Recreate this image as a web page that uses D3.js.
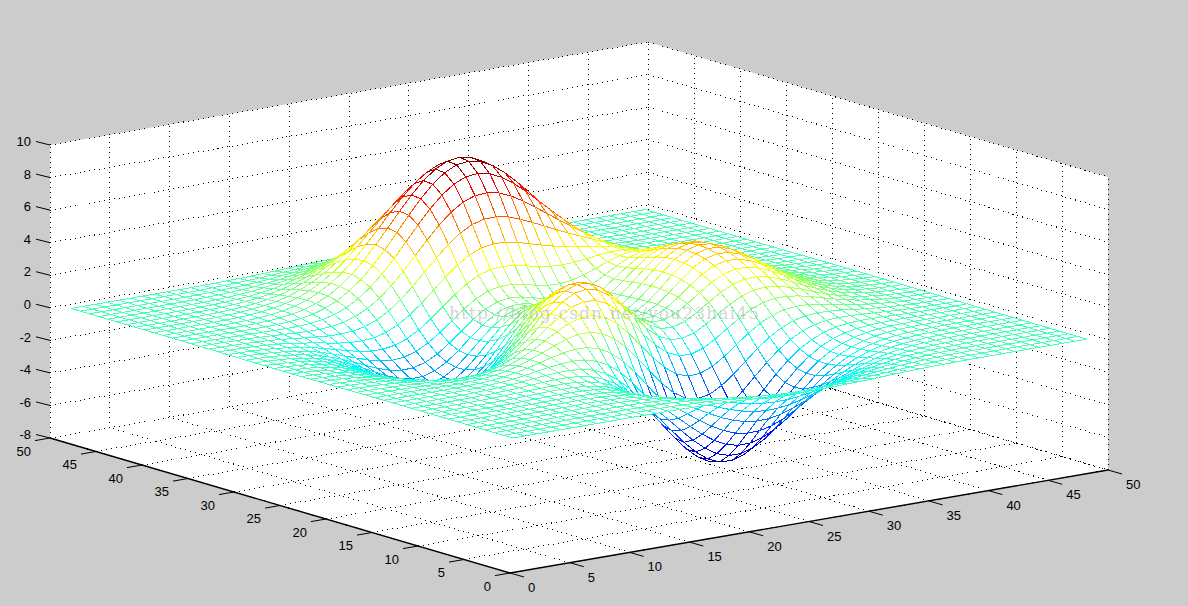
<!DOCTYPE html>
<html><head><meta charset="utf-8">
<script src="https://cdn.jsdelivr.net/npm/d3@7/dist/d3.min.js"></script>
<style>html,body{margin:0;padding:0;background:#ccc;overflow:hidden}svg{display:block}text{font-family:"Liberation Sans",Arial,sans-serif;font-size:13px;fill:#000}</style>
</head><body><svg id="c" width="1188" height="606"></svg>
<script>
const xTicks=[0,5,10,15,20,25,30,35,40,45,50];
const yTicks=[0,5,10,15,20,25,30,35,40,45,50];
const zTicks=[-8,-6,-4,-2,0,2,4,6,8,10];
const watermark="http://blog.csdn.net/you23hai45";
// surface heights in hundredths; row = y index 1..49, column = x index 1..49
const zGrid=[
[0,0,0,0,0,0,0,0,0,0,1,1,0,0,-1,-2,-3,-5,-8,-11,-14,-17,-20,-23,-25,-25,-25,-24,-22,-20,-17,-14,-11,-8,-6,-4,-3,-2,-1,-1,0,0,0,0,0,0,0,0,0],
[0,0,0,0,0,0,0,0,1,1,1,1,0,0,-1,-3,-6,-9,-13,-18,-24,-29,-34,-39,-42,-43,-43,-41,-38,-33,-28,-23,-19,-14,-10,-7,-5,-3,-2,-1,-1,0,0,0,0,0,0,0,0],
[0,0,0,0,0,0,0,1,1,1,1,1,0,-1,-2,-5,-10,-15,-22,-30,-39,-48,-56,-63,-68,-70,-69,-66,-61,-54,-46,-38,-30,-23,-17,-12,-8,-5,-3,-2,-1,-1,0,0,0,0,0,0,0],
[0,0,0,0,0,0,1,1,1,1,1,1,0,-1,-4,-9,-16,-24,-35,-48,-62,-75,-88,-98,-106,-109,-108,-103,-95,-84,-71,-59,-46,-35,-26,-18,-13,-8,-5,-3,-2,-1,-1,0,0,0,0,0,0],
[0,0,0,0,0,1,1,1,1,2,2,2,0,-2,-7,-14,-23,-36,-53,-71,-91,-112,-131,-146,-157,-162,-160,-153,-141,-124,-106,-87,-69,-52,-38,-27,-18,-12,-8,-5,-3,-1,-1,0,0,0,0,0,0],
[0,0,0,0,0,1,1,2,2,2,3,2,0,-3,-10,-20,-33,-52,-75,-101,-130,-159,-186,-208,-224,-231,-229,-218,-201,-177,-151,-124,-98,-74,-55,-38,-26,-17,-11,-6,-4,-2,-1,-1,0,0,0,0,0],
[0,0,0,0,1,1,1,2,3,3,4,3,1,-4,-12,-25,-44,-69,-99,-135,-174,-214,-251,-281,-302,-312,-310,-296,-272,-241,-205,-168,-132,-101,-73,-52,-35,-22,-14,-8,-5,-2,-1,-1,0,0,0,0,0],
[0,0,0,0,1,1,2,3,4,5,5,4,2,-4,-14,-30,-53,-85,-125,-171,-221,-273,-321,-361,-390,-403,-401,-383,-353,-312,-265,-217,-171,-130,-94,-66,-44,-28,-17,-10,-6,-3,-1,-1,0,0,0,0,0],
[0,0,0,1,1,1,2,3,5,6,7,7,5,-1,-13,-32,-59,-97,-145,-201,-264,-328,-388,-439,-476,-494,-493,-472,-435,-385,-327,-268,-210,-159,-115,-80,-53,-34,-20,-12,-6,-3,-1,-1,0,0,0,0,0],
[0,0,0,1,1,2,3,4,6,8,10,10,9,4,-8,-27,-58,-100,-154,-220,-293,-369,-441,-503,-549,-573,-574,-551,-508,-450,-382,-312,-244,-183,-132,-90,-59,-37,-22,-12,-6,-3,-1,0,0,0,0,0,0],
[0,0,0,1,1,2,3,5,7,10,13,15,15,12,2,-16,-46,-90,-148,-219,-301,-387,-470,-543,-598,-629,-633,-610,-564,-500,-424,-345,-269,-200,-142,-96,-61,-37,-20,-10,-4,-1,0,1,1,1,0,0,0],
[0,0,0,0,1,2,3,5,8,12,16,20,24,24,18,4,-22,-62,-119,-192,-277,-369,-460,-542,-606,-645,-654,-635,-588,-522,-442,-358,-276,-203,-141,-93,-57,-32,-16,-6,-1,1,2,2,1,1,1,0,0],
[0,0,0,0,1,1,3,5,8,13,19,26,33,38,39,33,15,-18,-68,-136,-219,-312,-408,-496,-568,-615,-633,-619,-576,-511,-432,-346,-264,-189,-127,-79,-44,-21,-7,1,4,5,5,4,3,2,1,1,0],
[0,0,0,0,0,0,1,3,7,12,19,29,41,53,62,67,61,41,4,-53,-128,-217,-313,-405,-483,-539,-565,-560,-525,-466,-390,-309,-229,-157,-98,-54,-22,-3,8,12,12,11,8,6,4,3,2,1,1],
[0,-1,-1,-1,-1,-2,-1,0,3,8,17,29,45,64,84,101,111,108,88,48,-14,-94,-185,-277,-360,-424,-460,-465,-440,-390,-322,-247,-174,-108,-56,-17,8,22,27,26,23,18,13,9,6,4,2,1,1],
[-1,-1,-2,-2,-3,-4,-5,-5,-3,1,9,23,42,68,97,128,155,173,173,153,109,43,-40,-130,-216,-287,-333,-348,-334,-294,-236,-170,-104,-47,-2,29,46,52,50,44,35,27,19,13,9,5,3,2,1],
[-1,-2,-2,-4,-6,-8,-10,-12,-13,-11,-4,9,30,60,98,142,186,223,245,247,223,172,100,14,-72,-148,-202,-227,-222,-192,-143,-85,-27,22,58,80,88,86,77,64,50,37,26,18,11,7,4,2,1],
[-1,-2,-4,-6,-9,-13,-17,-22,-26,-28,-25,-14,7,39,83,136,195,250,293,315,311,277,216,137,51,-27,-86,-118,-121,-97,-54,-2,49,91,120,134,133,123,106,86,66,48,34,23,14,9,5,3,2],
[-2,-3,-5,-8,-12,-18,-25,-34,-42,-49,-51,-45,-28,3,49,110,178,248,309,350,363,344,294,222,140,61,-1,-36,-41,-20,20,70,118,156,179,186,178,159,135,108,82,59,42,28,18,11,6,4,2],
[-2,-4,-6,-10,-16,-24,-35,-47,-61,-73,-82,-83,-72,-45,0,63,138,218,292,348,376,370,331,266,188,111,51,16,11,34,76,127,175,211,231,233,219,194,163,129,98,71,49,33,21,13,8,4,2],
[-3,-5,-8,-13,-20,-30,-44,-61,-80,-99,-116,-125,-121,-101,-60,2,80,166,249,316,355,360,330,273,200,127,70,39,39,67,114,169,220,257,276,275,256,225,188,148,112,81,56,37,24,15,9,5,3],
[-3,-5,-9,-15,-24,-36,-53,-74,-98,-124,-149,-166,-171,-158,-123,-66,12,101,189,263,311,325,303,253,186,119,67,42,48,83,137,198,253,293,311,308,286,251,209,165,125,90,62,41,26,16,10,5,3],
[-3,-6,-10,-17,-27,-41,-60,-85,-114,-146,-178,-203,-216,-212,-184,-131,-56,32,123,202,256,277,263,219,158,98,53,34,48,89,150,216,276,318,337,333,309,270,225,177,134,96,67,44,28,17,10,6,3],
[-4,-6,-11,-18,-29,-45,-66,-93,-126,-163,-200,-232,-253,-255,-234,-188,-117,-31,60,141,200,226,218,181,127,74,35,23,43,90,156,227,289,333,353,348,323,282,235,185,140,100,70,46,29,18,11,6,3],
[-4,-7,-11,-19,-30,-47,-69,-98,-133,-173,-214,-251,-277,-286,-271,-230,-165,-82,6,88,148,178,175,145,98,51,19,13,38,89,157,230,294,338,358,353,327,286,237,187,141,102,70,47,30,18,11,6,3],
[-4,-7,-11,-19,-30,-47,-70,-99,-135,-176,-220,-259,-289,-302,-293,-257,-198,-121,-36,43,104,136,137,113,73,32,6,5,32,85,154,226,289,333,352,347,321,281,233,184,139,100,69,46,29,18,10,6,3],
[-4,-6,-11,-18,-29,-45,-68,-96,-132,-173,-216,-256,-287,-303,-298,-268,-215,-144,-65,10,68,101,106,86,52,18,-3,-1,28,80,147,216,276,318,336,331,306,268,222,175,132,95,66,44,28,17,10,6,3],
[-3,-6,-10,-17,-27,-42,-63,-90,-124,-163,-204,-243,-274,-291,-288,-263,-216,-151,-79,-10,45,77,84,69,41,13,-4,0,28,77,139,202,258,295,312,307,283,247,205,162,122,88,61,40,26,16,9,5,3],
[-3,-5,-9,-15,-25,-38,-57,-82,-112,-147,-185,-221,-249,-265,-264,-242,-200,-142,-76,-12,39,71,80,69,46,23,9,13,38,80,134,190,238,270,283,278,256,223,185,145,109,79,55,36,23,14,8,5,3],
[-3,-5,-8,-13,-22,-33,-50,-71,-98,-128,-161,-192,-216,-229,-227,-206,-167,-113,-52,8,57,89,101,95,78,58,45,47,65,99,141,185,222,247,255,248,227,197,162,127,96,69,48,31,20,12,7,4,2],
[-2,-4,-7,-11,-18,-28,-42,-59,-82,-107,-133,-157,-176,-184,-178,-155,-116,-64,-5,54,104,139,155,155,142,125,112,108,117,137,165,194,217,231,232,221,199,171,140,110,82,59,41,27,17,10,6,4,2],
[-2,-3,-5,-9,-15,-23,-33,-47,-65,-84,-104,-121,-132,-133,-121,-94,-52,3,65,126,180,220,243,249,242,227,210,199,195,199,208,218,224,224,216,199,176,149,120,93,69,49,34,22,14,9,5,3,2],
[-1,-3,-4,-7,-11,-17,-25,-36,-48,-61,-74,-84,-86,-80,-60,-26,23,83,151,218,279,327,359,372,369,355,334,313,294,278,266,255,244,228,209,185,158,130,104,79,58,41,28,18,12,7,4,2,1],
[-1,-2,-3,-5,-8,-12,-18,-25,-33,-41,-47,-48,-43,-28,1,43,99,168,243,319,389,446,486,506,508,494,468,436,401,366,333,301,270,239,207,176,145,116,90,67,49,34,23,15,9,6,3,2,1],
[-1,-1,-2,-4,-6,-8,-12,-16,-20,-23,-23,-18,-5,19,55,105,169,246,329,413,492,558,607,634,639,625,594,551,502,449,397,346,297,251,209,170,135,105,79,58,41,28,19,12,7,4,3,2,1],
[-1,-1,-2,-2,-4,-5,-7,-8,-9,-8,-3,7,26,56,98,155,225,307,397,488,573,646,701,733,741,727,692,642,581,514,446,380,318,260,210,165,127,96,70,50,35,23,15,10,6,3,2,1,1],
[0,-1,-1,-1,-2,-3,-3,-3,-1,3,11,25,48,81,128,187,261,345,438,531,620,696,754,790,800,785,748,693,625,550,472,396,326,261,205,158,119,87,62,43,29,19,12,8,5,3,2,1,0],
[0,0,-1,-1,-1,-1,0,1,4,10,20,36,60,95,142,202,274,357,448,539,626,702,760,796,807,793,756,700,630,552,471,392,318,252,195,147,108,78,55,37,25,16,10,6,4,2,1,1,0],
[0,0,0,0,0,0,1,3,7,14,24,41,65,98,143,199,267,345,429,515,596,667,722,757,768,755,720,666,599,523,445,368,296,232,178,132,96,68,47,31,21,13,8,5,3,2,1,1,0],
[0,0,0,0,0,1,2,4,8,15,25,40,62,93,133,183,244,312,387,462,535,598,647,678,688,677,645,597,536,468,397,327,262,204,155,114,82,58,39,26,17,11,6,4,2,1,1,0,0],
[0,0,0,0,1,1,2,4,8,14,23,36,55,82,116,159,210,268,331,395,456,509,551,577,586,576,550,509,457,398,337,277,221,172,129,95,68,47,32,21,13,8,5,3,2,1,1,0,0],
[0,0,0,0,1,1,2,4,7,12,19,31,46,67,95,130,171,218,268,320,369,412,445,467,474,466,445,412,369,322,272,223,178,137,103,75,54,37,25,16,10,6,4,2,1,1,0,0,0],
[0,0,0,0,0,1,2,3,6,10,16,24,36,53,74,101,132,168,207,246,284,317,343,359,365,359,343,317,284,248,209,171,136,105,79,57,41,28,19,12,8,5,3,2,1,1,0,0,0],
[0,0,0,0,0,1,1,3,4,7,12,18,27,39,55,75,98,124,153,182,209,234,253,265,269,265,253,234,210,182,154,126,100,77,58,42,30,20,13,9,5,3,2,1,1,0,0,0,0],
[0,0,0,0,0,1,1,2,3,5,8,13,19,28,39,52,69,87,107,127,147,164,177,186,189,186,177,164,147,128,108,88,70,54,40,29,21,14,9,6,4,2,1,1,0,0,0,0,0],
[0,0,0,0,0,0,1,1,2,4,6,9,13,19,26,35,46,59,72,86,99,110,119,125,127,125,119,110,99,86,73,59,47,36,27,20,14,9,6,4,2,2,1,0,0,0,0,0,0],
[0,0,0,0,0,0,0,1,1,2,4,6,8,12,17,23,30,38,47,55,64,71,77,81,82,81,77,71,64,55,47,38,30,23,17,13,9,6,4,3,2,1,1,0,0,0,0,0,0],
[0,0,0,0,0,0,0,1,1,1,2,4,5,8,11,14,19,24,29,34,39,44,48,50,51,50,48,44,39,34,29,24,19,14,11,8,5,4,2,2,1,1,0,0,0,0,0,0,0],
[0,0,0,0,0,0,0,0,1,1,1,2,3,5,6,8,11,14,17,20,23,26,28,30,30,30,28,26,23,20,17,14,11,8,6,5,3,2,1,1,1,0,0,0,0,0,0,0,0]
];

const origin=[510,573];
const xPx=d3.scaleLinear([0,50],[0,598]), xPy=d3.scaleLinear([0,50],[0,-103]);
const yPx=d3.scaleLinear([0,50],[0,-460]), yPy=d3.scaleLinear([0,50],[0,-135]);
const zPy=d3.scaleLinear([-8,10],[0,-293]);
const P=(x,y,z)=>[origin[0]+xPx(x)+yPx(y), origin[1]+xPy(x)+yPy(y)+zPy(z)];
const Z=(i,j)=>zGrid[i][j]/100;
const all=zGrid.flat().map(v=>v/100);
const [zMin,zMax]=d3.extent(all);
const jet=d3.scaleLinear([0,.125,.375,.625,.875,1],["#000080","#0000ff","#00ffff","#ffff00","#ff0000","#800000"]).clamp(true);
const norm=d3.scaleLinear([zMin,zMax],[0,1]).clamp(true);
const colour=z=>jet(Math.min(63,Math.floor(norm(z)*64))/63);
const line=d3.line();
const svg=d3.select("#c");

// box faces
svg.append("path").attr("fill","#fff").attr("d",line([P(0,0,-8),P(50,0,-8),P(50,0,10),P(50,50,10),P(0,50,10),P(0,50,-8)])+"Z");

// dotted grid
const segs=[];
xTicks.forEach(x=>{segs.push([P(x,0,-8),P(x,50,-8)]);segs.push([P(x,50,-8),P(x,50,10)]);});
yTicks.forEach(y=>{segs.push([P(0,y,-8),P(50,y,-8)]);segs.push([P(50,y,-8),P(50,y,10)]);});
zTicks.forEach(z=>{segs.push([P(0,50,z),P(50,50,z)]);segs.push([P(50,50,z),P(50,0,z)]);});
svg.append("g").selectAll("path").data(segs).join("path").attr("d",d=>line(d))
  .attr("fill","none").attr("stroke","#000").attr("stroke-width",1).attr("stroke-dasharray","1 4").attr("shape-rendering","crispEdges");

// mesh, back to front with hidden-line fill
const quads=[];
for(let i=zGrid.length-2;i>=0;i--)for(let j=zGrid[0].length-2;j>=0;j--)quads.push([i,j]);
const mesh=svg.append("g").attr("shape-rendering","crispEdges");
const V=(i,j)=>P(j+1,i+1,Z(i,j));
const g=mesh.selectAll("g").data(quads).join("g");
g.append("path").attr("fill","#fff").attr("stroke","none").attr("d",([i,j])=>line([V(i,j),V(i,j+1),V(i+1,j+1),V(i+1,j)])+"Z");
const edges=([i,j])=>[[V(i+1,j),V(i+1,j+1),Z(i+1,j)],[V(i,j+1),V(i+1,j+1),Z(i,j+1)],[V(i,j),V(i+1,j),Z(i,j)],[V(i,j),V(i,j+1),Z(i,j)]];
g.selectAll("line").data(edges).join("line")
  .attr("x1",d=>d[0][0]).attr("y1",d=>d[0][1]).attr("x2",d=>d[1][0]).attr("y2",d=>d[1][1])
  .attr("stroke",d=>colour(d[2])).attr("stroke-width",1);

// axes
svg.append("path").attr("fill","none").attr("stroke","#000").attr("stroke-width",1.4).attr("d",line([P(0,50,-8),P(0,0,-8),P(50,0,-8)]));
const ticks=svg.append("g").attr("stroke","#000").attr("stroke-width",1);
const tick=(a,dx,dy)=>ticks.append("line").attr("x1",a[0]).attr("y1",a[1]).attr("x2",a[0]+dx).attr("y2",a[1]+dy);
const labels=svg.append("g");
const label=(x,y,t,anchor)=>labels.append("text").attr("x",x).attr("y",y).attr("text-anchor",anchor).attr("dominant-baseline","central").text(t);
xTicks.forEach(x=>{const a=P(x,0,-8);tick(a,14,4);label(a[0]+18,a[1]+14.5,x,"start");});
yTicks.forEach(y=>{const a=P(0,y,-8);tick(a,-15,2.6);label(a[0]-19,a[1]+13,y,"end");});
zTicks.forEach(z=>{const a=P(0,50,z);tick(a,-14,-3.5);label(31,a[1]-3.3,z,"end");});

// watermark
svg.append("text").attr("x",449).attr("y",319).attr("textLength",310).attr("lengthAdjust","spacing")
  .style("font-family","'DejaVu Serif',serif").style("font-size","17px").style("fill","rgba(170,170,170,0.5)").text(watermark);
</script></body></html>
